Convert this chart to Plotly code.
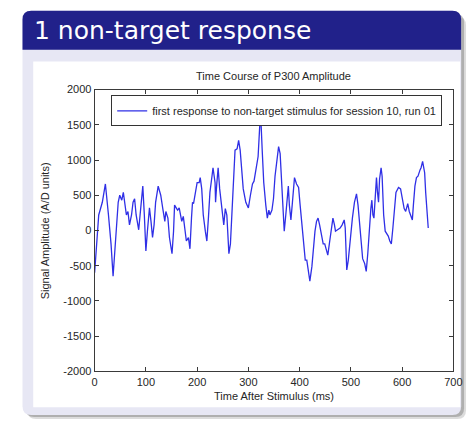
import plotly.graph_objects as go

# ---- data: single-trial EEG response (time in ms, amplitude in A/D units)
time_ms = [0, 5, 8, 15, 21, 27, 32, 36, 40, 46, 49, 53, 56, 59, 62, 65, 68, 72, 75, 78,
           81, 86, 91, 94, 97, 100, 103, 107, 110, 113, 116, 119, 124, 129, 133, 137, 139, 143, 146, 151,
           154, 156, 160, 162, 165, 170, 173, 176, 179, 183, 186, 189, 191, 193, 197, 200, 204, 206, 209, 212,
           216, 219, 222, 225, 229, 231, 235, 236, 238, 241, 244, 248, 252, 255, 258, 261, 262, 265, 268, 271,
           274, 278, 281, 284, 287, 290, 295, 300, 304, 308, 311, 316, 319, 322, 324, 327, 330, 334, 337, 340,
           342, 346, 349, 352, 356, 359, 362, 365, 368, 370, 373, 376, 378, 380, 383, 386, 388, 390, 394, 398,
           401, 405, 408, 411, 414, 417, 420, 424, 427, 430, 433, 436, 439, 443, 446, 449, 452, 455, 458, 462,
           465, 468, 470, 474, 479, 483, 487, 489, 490, 492, 495, 498, 503, 507, 511, 514, 517, 520, 523, 527,
           530, 533, 536, 539, 541, 543, 545, 547, 550, 552, 554, 556, 559, 561, 564, 567, 573, 576, 579, 582,
           585, 588, 593, 597, 600, 604, 607, 611, 614, 617, 620, 622, 625, 628, 631, 635, 637, 640, 641, 644,
           646, 648, 651]
amplitude = [-600, 0, 220, 400, 660, 220, -190, -650, -190, 400, 500, 430, 540, 360, 220, 270, 80, 220, 400, 450,
             220, 10, 360, 630, 220, -290, -10, 320, 130, -100, 80, 400, 630, 500, 310, 130, 270, 175, -100, -330,
             -10, 360, 310, 290, 320, 130, 200, 40, -150, -100, -260, 175, 400, 380, 540, 680, 680, 750, 590, 220,
             -10, -150, 175, 540, 770, 890, 680, 400, 630, 890, 590, 310, 80, 310, 220, -190, -330, -190, 220, 630,
             1140, 1160, 1280, 1140, 910, 590, 400, 320, 500, 660, 700, 910, 1050, 1460, 1650, 1140, 680, 360, 175, 290,
             220, 290, 450, 770, 1000, 1190, 1090, 730, 270, -10, 220, 450, 630, 360, 150, 400, 590, 750, 660, 610,
             360, 35, -190, -420, -420, -560, -720, -510, -240, -10, 130, 175, 80, -100, -190, -190, -290, -350, -190, -10,
             175, 80, -10, 10, 35, 80, 150, 35, -290, -560, -420, -150, 175, 400, 520, 360, 80, -190, -400, -470,
             -580, -330, 35, 310, 430, 220, 175, 500, 750, 540, 400, 730, 890, 770, 220, -10, -80, -150, -190, 35,
             360, 540, 610, 590, 470, 310, 270, 380, 270, 220, 150, 360, 630, 750, 770, 860, 890, 980, 930, 820,
             540, 310, 35]

x_tick_vals = [0, 100, 200, 300, 400, 500, 600, 700]
x_tick_text = ["0", "100", "200", "300", "400", "500", "600", "700"]
y_tick_vals = [-2000, -1500, -1000, -500, 0, 500, 1000, 1500, 2000]
y_tick_text = ["-2000", "-1500", "-1000", "-500", "0", "500", "1000", "1500", "2000"]

series_name = "first response to non-target stimulus for session 10, run 01"
chart_title = "Time Course of P300 Amplitude"
x_label = "Time After Stimulus (ms)"
y_label = "Signal Amplitude (A/D units)"
slide_title = "1 non-target response"

# ---- page geometry (pixels, origin top-left)
W, H = 476, 425


def px(x):
    return x / W


def py(y):
    return 1 - y / H


def rounded_path(x0, y0, x1, y1, r_top, r_bot):
    """SVG path in paper coords for a rectangle with rounded corners."""
    pts = []
    pts.append(f"M {px(x0 + r_top)},{py(y0)}")
    pts.append(f"L {px(x1 - r_top)},{py(y0)}")
    pts.append(f"Q {px(x1)},{py(y0)} {px(x1)},{py(y0 + r_top)}")
    pts.append(f"L {px(x1)},{py(y1 - r_bot)}")
    pts.append(f"Q {px(x1)},{py(y1)} {px(x1 - r_bot)},{py(y1)}")
    pts.append(f"L {px(x0 + r_bot)},{py(y1)}")
    pts.append(f"Q {px(x0)},{py(y1)} {px(x0)},{py(y1 - r_bot)}")
    pts.append(f"L {px(x0)},{py(y0 + r_top)}")
    pts.append(f"Q {px(x0)},{py(y0)} {px(x0 + r_top)},{py(y0)}")
    pts.append("Z")
    return " ".join(pts)


NAVY = "#21218a"
LAVENDER = "#e7e7f4"
TEXT = "#262626"
AXIS = "#3a3a3a"

shapes = [
    # soft drop shadow of the block
    dict(type="path", xref="paper", yref="paper", layer="below",
         path=rounded_path(25, 11, 475, 425, 9, 9),
         fillcolor="rgba(140,140,140,0.3)", line=dict(width=0)),
    dict(type="path", xref="paper", yref="paper", layer="below",
         path=rounded_path(23, 8, 473, 423, 9, 9),
         fillcolor="rgba(120,120,120,0.45)", line=dict(width=0)),
    # block body
    dict(type="path", xref="paper", yref="paper", layer="below",
         path=rounded_path(20, 5, 470, 421, 9, 9),
         fillcolor=LAVENDER, line=dict(width=0)),
    # title bar
    dict(type="path", xref="paper", yref="paper", layer="below",
         path=rounded_path(20, 5, 470, 45, 9, 0),
         fillcolor=NAVY, line=dict(width=0)),
    # white figure canvas
    dict(type="rect", xref="paper", yref="paper", layer="below",
         x0=px(31), x1=px(469), y0=py(413), y1=py(57),
         fillcolor="white", line=dict(width=0)),
]

fig = go.Figure()
fig.add_trace(go.Scatter(
    x=time_ms, y=amplitude, mode="lines", name=series_name,
    line=dict(color="#2f2fe6", width=1.3), showlegend=True,
))

font_main = "Liberation Sans, Arial, sans-serif"

axis_common = dict(
    showgrid=False, zeroline=False, showline=True, linecolor=AXIS, linewidth=1,
    mirror="ticks", ticks="inside", ticklen=4, tickcolor=AXIS, tickwidth=1,
    tickfont=dict(family=font_main, size=11, color=TEXT),
)

fig.update_layout(
    width=W, height=H,
    margin=dict(l=0, r=0, t=0, b=0),
    paper_bgcolor="white", plot_bgcolor="white",
    shapes=shapes,
    xaxis=dict(range=[0, 700], domain=[px(94), px(462)],
               tickmode="array", tickvals=x_tick_vals, ticktext=x_tick_text,
               **axis_common),
    yaxis=dict(range=[-2000, 2000], domain=[py(376), py(86)],
               tickmode="array", tickvals=y_tick_vals, ticktext=y_tick_text,
               **axis_common),
    showlegend=True,
    legend=dict(x=px(111), y=py(92), xanchor="left", yanchor="top",
                bgcolor="white", bordercolor="#333333", borderwidth=1,
                font=dict(family=font_main, size=11, color=TEXT),
                itemwidth=30, tracegroupgap=0),
    annotations=[
        dict(text=slide_title, xref="paper", yref="paper", x=px(30), y=py(25),
             xanchor="left", yanchor="middle", showarrow=False,
             font=dict(family="DejaVu Sans, sans-serif", size=25, color="white")),
        dict(text=chart_title, xref="paper", yref="paper", x=px(277), y=py(72),
             xanchor="center", yanchor="middle", showarrow=False,
             font=dict(family=font_main, size=11, color=TEXT)),
        dict(text=x_label, xref="paper", yref="paper", x=px(278), y=py(401),
             xanchor="center", yanchor="middle", showarrow=False,
             font=dict(family=font_main, size=11, color=TEXT)),
        dict(text=y_label, xref="paper", yref="paper", x=px(44), y=py(231),
             xanchor="center", yanchor="middle", showarrow=False, textangle=-90,
             font=dict(family=font_main, size=11, color=TEXT)),
    ],
)

fig.write_html("out.html")
